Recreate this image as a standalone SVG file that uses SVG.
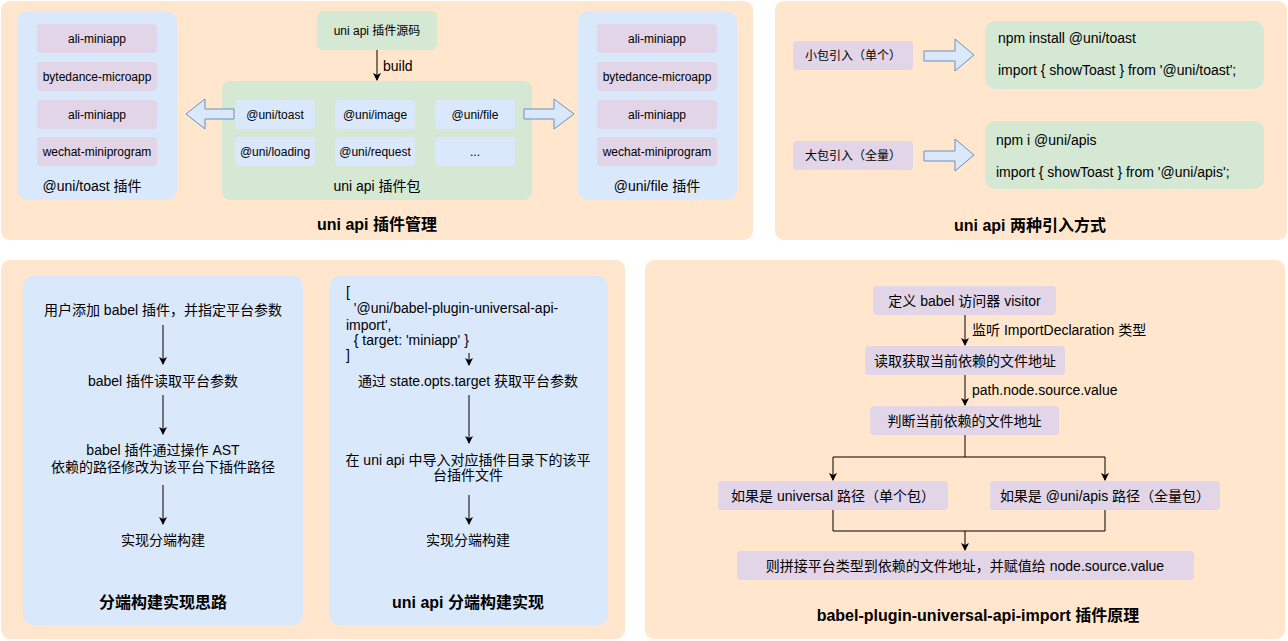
<svg xmlns="http://www.w3.org/2000/svg" width="1288" height="641" viewBox="0 0 1288 641">
<defs>
<style>
text{font-family:"Liberation Sans","Noto Sans CJK SC",sans-serif;fill:#000;dominant-baseline:central}
.t12{font-size:12px}.t13{font-size:13px}.t14{font-size:14px}
.title{font-size:16px;font-weight:bold}
.c{text-anchor:middle}
.panel{fill:#ffe6cc;stroke:none}
.blue{fill:#dae8fc;stroke:none}
.green{fill:#d5e8d4;stroke:none}
.purple{fill:#e1d5e7;stroke:none}
.barrow{fill:#dae8fc;stroke:#6c8ebf;stroke-width:1}
.edge{fill:none;stroke:#000;stroke-width:1}
</style>
<marker id="ah" markerWidth="10" markerHeight="10" refX="7" refY="5" orient="auto" markerUnits="userSpaceOnUse">
<path d="M0,1 L8,5 L0,9 L2,5 Z" fill="#000"/>
</marker>
</defs>

<g id="panel-plugin-mgmt">
<rect class="panel" x="1" y="1" width="752" height="239" rx="9"/>
<text class="title c" x="377" y="224">uni api 插件管理</text>
</g>
<g id="toast-plugin">
<rect class="blue" x="17" y="11" width="160" height="189" rx="10"/>
<rect class="purple" x="37" y="24" width="120" height="29" rx="4"/>
<text class="t12 c" x="97" y="38.5">ali-miniapp</text>
<rect class="purple" x="37" y="62" width="120" height="29" rx="4"/>
<text class="t12 c" x="97" y="76.5">bytedance-microapp</text>
<rect class="purple" x="37" y="100" width="120" height="29" rx="4"/>
<text class="t12 c" x="97" y="114.5">ali-miniapp</text>
<rect class="purple" x="37" y="137" width="120" height="29" rx="4"/>
<text class="t12 c" x="97" y="151.5">wechat-miniprogram</text>
<text class="t14 c" x="92" y="186">@uni/toast 插件</text>
</g>
<g id="source">
<rect class="green" x="317" y="11" width="120" height="39" rx="6"/>
<text class="t12 c" x="377" y="31">uni api 插件源码</text>
</g>
<g id="package">
<rect class="green" x="222" y="81" width="310" height="119" rx="8"/>
<rect class="blue" x="235" y="100" width="80" height="29" rx="4"/>
<text class="t12 c" x="275" y="114.5">@uni/toast</text>
<rect class="blue" x="335" y="100" width="80" height="29" rx="4"/>
<text class="t12 c" x="375" y="114.5">@uni/image</text>
<rect class="blue" x="435" y="100" width="80" height="29" rx="4"/>
<text class="t12 c" x="475" y="114.5">@uni/file</text>
<rect class="blue" x="235" y="137" width="80" height="29" rx="4"/>
<text class="t12 c" x="275" y="151.5">@uni/loading</text>
<rect class="blue" x="335" y="137" width="80" height="29" rx="4"/>
<text class="t12 c" x="375" y="151.5">@uni/request</text>
<rect class="blue" x="435" y="137" width="80" height="29" rx="4"/>
<text class="t12 c" x="475" y="151.5">...</text>
<text class="t14 c" x="377" y="186">uni api 插件包</text>
</g>
<g id="file-plugin">
<rect class="blue" x="578" y="11" width="159" height="189" rx="10"/>
<rect class="purple" x="597" y="24" width="120" height="29" rx="4"/>
<text class="t12 c" x="657" y="38.5">ali-miniapp</text>
<rect class="purple" x="597" y="62" width="120" height="29" rx="4"/>
<text class="t12 c" x="657" y="76.5">bytedance-microapp</text>
<rect class="purple" x="597" y="100" width="120" height="29" rx="4"/>
<text class="t12 c" x="657" y="114.5">ali-miniapp</text>
<rect class="purple" x="597" y="137" width="120" height="29" rx="4"/>
<text class="t12 c" x="657" y="151.5">wechat-miniprogram</text>
<text class="t14 c" x="657" y="186">@uni/file 插件</text>
</g>

<g id="panel-import">
<rect class="panel" x="775" y="1" width="512" height="239" rx="9"/>
<text class="title c" x="1030" y="225">uni api 两种引入方式</text>
</g>
<g id="small-import">
<rect class="purple" x="793" y="41" width="120" height="29" rx="4"/>
<text class="t12 c" x="853" y="55.5">小包引入（单个）</text>
</g>
<g id="small-code">
<rect class="green" x="985" y="21" width="279" height="68" rx="10"/>
<text class="t14" x="998" y="38">npm install @uni/toast</text>
<text class="t14" x="998" y="70">import { showToast } from '@uni/toast';</text>
</g>
<g id="big-import">
<rect class="purple" x="793" y="141" width="120" height="29" rx="4"/>
<text class="t12 c" x="853" y="155.5">大包引入（全量）</text>
</g>
<g id="big-code">
<rect class="green" x="985" y="121" width="279" height="68" rx="10"/>
<text class="t14" x="996" y="140">npm i @uni/apis</text>
<text class="t14" x="996" y="172">import { showToast } from '@uni/apis';</text>
</g>

<g id="panel-idea">
<rect class="panel" x="1" y="260" width="624" height="379" rx="9"/>
</g>
<g id="idea">
<rect class="blue" x="23" y="276" width="280" height="349" rx="10"/>
<text class="t14 c" x="163" y="310">用户添加 babel 插件，并指定平台参数</text>
<text class="t14 c" x="163" y="381">babel 插件读取平台参数</text>
<text class="t14 c" x="163" y="450">babel 插件通过操作 AST</text>
<text class="t14 c" x="163" y="467">依赖的路径修改为该平台下插件路径</text>
<text class="t14 c" x="163" y="540">实现分端构建</text>
<text class="title c" x="163" y="602">分端构建实现思路</text>
</g>
<g id="impl">
<rect class="blue" x="329" y="276" width="279" height="349" rx="10"/>
<text class="t14" x="346" y="292">[</text>
<text class="t14" x="346" y="308" xml:space="preserve">  '@uni/babel-plugin-universal-api-</text>
<text class="t14" x="346" y="325">import',</text>
<text class="t14" x="346" y="340" xml:space="preserve">  { target: 'miniapp' }</text>
<text class="t14" x="346" y="355">]</text>
<text class="t14 c" x="468" y="381">通过 state.opts.target 获取平台参数</text>
<text class="t14 c" x="468" y="460">在 uni api 中导入对应插件目录下的该平</text>
<text class="t14 c" x="468" y="475">台插件文件</text>
<text class="t14 c" x="468" y="540">实现分端构建</text>
<text class="title c" x="468" y="602">uni api 分端构建实现</text>
</g>

<g id="panel-principle">
<rect class="panel" x="645" y="260" width="640" height="379" rx="9"/>
<text class="title c" x="978" y="615">babel-plugin-universal-api-import 插件原理</text>
</g>
<g id="visitor">
<rect class="purple" x="873" y="286" width="183" height="29" rx="4"/>
<text class="t14 c" x="964.5" y="301">定义 babel 访问器 visitor</text>
</g>
<g id="read">
<rect class="purple" x="865" y="346" width="200" height="29" rx="4"/>
<text class="t14 c" x="965" y="361">读取获取当前依赖的文件地址</text>
</g>
<g id="judge">
<rect class="purple" x="870" y="406" width="189" height="29" rx="4"/>
<text class="t14 c" x="964.5" y="421">判断当前依赖的文件地址</text>
</g>
<g id="universal">
<rect class="purple" x="718" y="481" width="230" height="29" rx="4"/>
<text class="t14 c" x="833" y="496">如果是 universal 路径（单个包）</text>
</g>
<g id="apis">
<rect class="purple" x="990" y="481" width="230" height="29" rx="4"/>
<text class="t14 c" x="1105" y="496">如果是 @uni/apis 路径（全量包）</text>
</g>
<g id="concat">
<rect class="purple" x="737" y="551" width="457" height="29" rx="4"/>
<text class="t14 c" x="965" y="566">则拼接平台类型到依赖的文件地址，并赋值给 node.source.value</text>
</g>

<g id="connectors">
<path class="edge" d="M377,50 V80" marker-end="url(#ah)"/>
<text class="t14" x="383" y="66">build</text>
<path class="barrow" d="M234,109 H205 V99 L186,114 L205,129 V119 H234 Z"/>
<path class="barrow" d="M524,109 H554 V99 L574,114 L554,129 V119 H524 Z"/>
<path class="barrow" d="M924,51 H955 V39 L974,55 L955,71 V61 H924 Z"/>
<path class="barrow" d="M924,151 H955 V139 L974,155 L955,171 V161 H924 Z"/>
<path class="edge" d="M163,325 V364" marker-end="url(#ah)"/>
<path class="edge" d="M163,395 V434" marker-end="url(#ah)"/>
<path class="edge" d="M163,485 V524" marker-end="url(#ah)"/>
<path class="edge" d="M469,353 V365" marker-end="url(#ah)"/>
<path class="edge" d="M469,395 V443" marker-end="url(#ah)"/>
<path class="edge" d="M469,495 V524" marker-end="url(#ah)"/>
<path class="edge" d="M965,315 V345" marker-end="url(#ah)"/>
<text class="t14" x="972" y="330">监听 ImportDeclaration 类型</text>
<path class="edge" d="M965,375 V405" marker-end="url(#ah)"/>
<text class="t14" x="972" y="390">path.node.source.value</text>
<path class="edge" d="M965,435 V457 H833 V480" marker-end="url(#ah)"/>
<path class="edge" d="M965,457 H1105 V480" marker-end="url(#ah)"/>
<path class="edge" d="M833,510 V531 H1105 V510"/>
<path class="edge" d="M965,531 V550" marker-end="url(#ah)"/>
</g>
</svg>
